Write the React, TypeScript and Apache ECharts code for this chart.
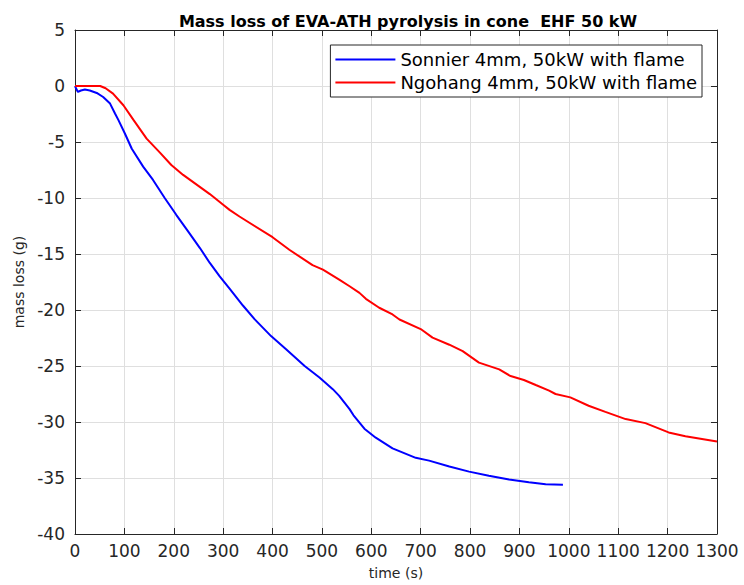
import React, { useEffect, useRef } from "react";
import * as echarts from "echarts";

const titleText = "Mass loss of EVA-ATH pyrolysis in cone  EHF 50 kW";
const seriesNames = ["Sonnier 4mm, 50kW with flame", "Ngohang 4mm, 50kW with flame"];

const sonnierTime = [0, 3, 6, 12, 20, 30, 44, 57, 71, 81, 88, 101, 115, 138, 158, 182, 205, 229, 253, 273, 293, 313, 340, 364, 397, 428, 465, 495, 522, 535, 556, 564, 586, 609, 643, 690, 717, 758, 798, 838, 879, 919, 953, 988];
const sonnierMass = [0, -0.3, -0.53, -0.4, -0.32, -0.4, -0.62, -0.98, -1.57, -2.46, -3.05, -4.24, -5.6, -7.2, -8.39, -10.02, -11.5, -12.98, -14.47, -15.8, -17.0, -18.1, -19.6, -20.84, -22.33, -23.52, -25.0, -26.03, -27.07, -27.67, -28.85, -29.4, -30.6, -31.4, -32.35, -33.2, -33.45, -33.98, -34.43, -34.79, -35.14, -35.37, -35.55, -35.6];

const ngohangTime = [0, 51, 62, 77, 98, 118, 145, 172, 195, 219, 273, 300, 313, 333, 400, 434, 481, 502, 535, 556, 576, 589, 616, 643, 657, 700, 724, 758, 785, 818, 859, 882, 909, 933, 960, 973, 1003, 1040, 1074, 1115, 1155, 1202, 1236, 1300];
const ngohangMass = [0, 0, -0.2, -0.68, -1.72, -3.0, -4.7, -5.95, -7.05, -7.94, -9.65, -10.6, -11.06, -11.65, -13.5, -14.62, -16.0, -16.4, -17.29, -17.88, -18.47, -19.0, -19.8, -20.4, -20.85, -21.7, -22.47, -23.1, -23.67, -24.7, -25.3, -25.9, -26.25, -26.7, -27.2, -27.5, -27.8, -28.55, -29.1, -29.74, -30.1, -30.93, -31.28, -31.75];

const xMin = 0, xMax = 1300, xStep = 100;
const yMin = -40, yMax = 5, yStep = 5;

export default function App() {
  const ref = useRef<HTMLDivElement>(null);
  useEffect(() => {
    if (!ref.current) return;
    const chart = echarts.init(ref.current, undefined, { renderer: "svg" });
    const axisColor = "#262626";
    const font = "DejaVu Sans";
    const pair = (t: number[], m: number[]) => t.map((v, i) => [v, m[i]]);
    chart.setOption({
      animation: false,
      backgroundColor: "#ffffff",
      textStyle: { fontFamily: font },
      title: {
        text: titleText,
        left: 403,
        textAlign: "center",
        top: 8,
        textStyle: { fontSize: 16, fontWeight: "bold", color: "#000", fontFamily: font },
      },
      legend: {
        orient: "vertical",
        right: 42,
        top: 45,
        itemWidth: 60,
        itemHeight: 2,
        icon: "rect",
        itemGap: 2,
        padding: [4, 5, 4, 5],
        borderColor: axisColor,
        borderWidth: 1,
        backgroundColor: "#fff",
        textStyle: { fontSize: 18, lineHeight: 21, color: "#000", fontFamily: font },
        data: seriesNames,
      },
      grid: { left: 75, right: 27, top: 30, bottom: 48, containLabel: false },
      xAxis: [
        {
          type: "value",
          min: xMin,
          max: xMax,
          interval: xStep,
          name: "time (s)",
          nameLocation: "middle",
          nameGap: 32,
          nameTextStyle: { fontSize: 14, color: axisColor, fontFamily: font },
          axisLine: { show: true, onZero: false, lineStyle: { color: axisColor, width: 1 } },
          axisTick: { show: true, inside: true, length: 6, lineStyle: { color: axisColor } },
          axisLabel: { fontSize: 17, color: axisColor, margin: 8, fontFamily: font, formatter: (v: number) => String(v) },
          splitLine: { show: true, lineStyle: { color: "#dfdfdf", width: 1 } },
        },
        {
          type: "value",
          position: "top",
          min: xMin,
          max: xMax,
          interval: xStep,
          axisLine: { show: true, onZero: false, lineStyle: { color: axisColor, width: 1 } },
          axisTick: { show: true, inside: true, length: 6, lineStyle: { color: axisColor } },
          axisLabel: { show: false },
          splitLine: { show: false },
        },
      ],
      yAxis: [
        {
          type: "value",
          min: yMin,
          max: yMax,
          interval: yStep,
          name: "mass loss (g)",
          nameLocation: "middle",
          nameGap: 47,
          nameTextStyle: { fontSize: 14, color: axisColor, fontFamily: font },
          axisLine: { show: true, onZero: false, lineStyle: { color: axisColor, width: 1 } },
          axisTick: { show: true, inside: true, length: 6, lineStyle: { color: axisColor } },
          axisLabel: { fontSize: 17, color: axisColor, margin: 10, fontFamily: font },
          splitLine: { show: true, lineStyle: { color: "#dfdfdf", width: 1 } },
        },
        {
          type: "value",
          position: "right",
          min: yMin,
          max: yMax,
          interval: yStep,
          axisLine: { show: true, onZero: false, lineStyle: { color: axisColor, width: 1 } },
          axisTick: { show: true, inside: true, length: 6, lineStyle: { color: axisColor } },
          axisLabel: { show: false },
          splitLine: { show: false },
        },
      ],
      series: [
        {
          name: seriesNames[0],
          type: "line",
          symbol: "none",
          data: pair(sonnierTime, sonnierMass),
          lineStyle: { color: "#0000ff", width: 2 },
          itemStyle: { color: "#0000ff" },
        },
        {
          name: seriesNames[1],
          type: "line",
          symbol: "none",
          data: pair(ngohangTime, ngohangMass),
          lineStyle: { color: "#ff0000", width: 2 },
          itemStyle: { color: "#ff0000" },
        },
      ],
    });
    return () => chart.dispose();
  }, []);
  return <div ref={ref} style={{ width: 744, height: 585, position: "absolute", left: 0, top: 0 }} />;
}
